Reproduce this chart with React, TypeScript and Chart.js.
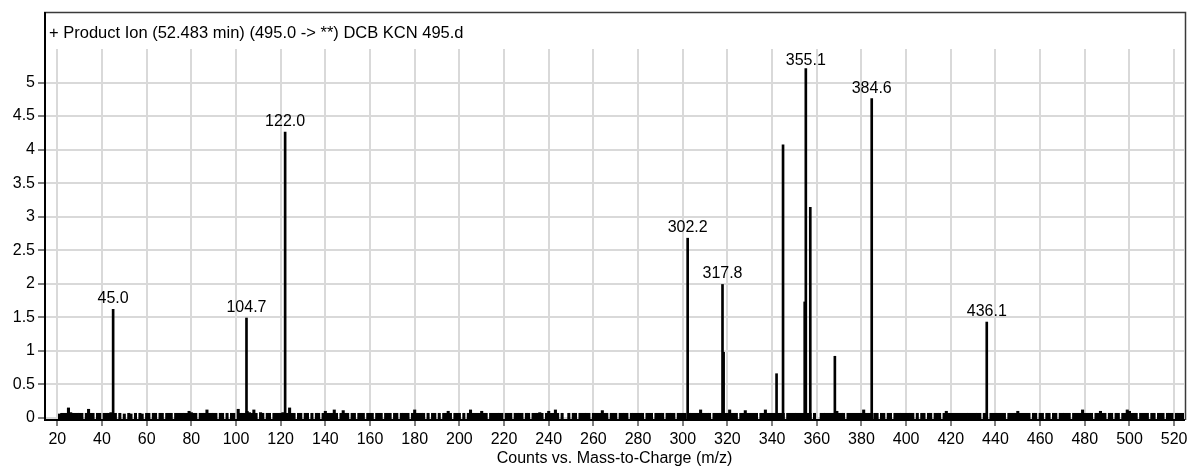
import React, { useEffect, useRef } from 'react';
import { Chart, registerables } from 'chart.js';

Chart.register(...registerables);

const FONT_FAMILY = '"Liberation Sans", Arial, sans-serif';

const chartTitle = '+ Product Ion (52.483 min) (495.0 -> **) DCB KCN 495.d';
const xAxisTitle = 'Counts vs. Mass-to-Charge (m/z)';

const xMin = 14.5;
const xMax = 524.4;
const yMin = -0.03;
const yMax = 5.5;

const xTickValues = [20, 40, 60, 80, 100, 120, 140, 160, 180, 200, 220, 240, 260, 280, 300, 320, 340, 360, 380, 400, 420, 440, 460, 480, 500, 520];
const yTickValues = [0, 0.5, 1, 1.5, 2, 2.5, 3, 3.5, 4, 4.5, 5];
const yTickLabels = ['0', '0.5', '1', '1.5', '2', '2.5', '3', '3.5', '4', '4.5', '5'];

// labelled product ions (m/z, intensity)
const labeledMz = [45.0, 104.7, 122.0, 302.2, 317.8, 355.1, 384.6, 436.1];
const labeledIntensity = [1.62, 1.49, 4.26, 2.68, 1.99, 5.21, 4.76, 1.43];
const labeledText = ['45.0', '104.7', '122.0', '302.2', '317.8', '355.1', '384.6', '436.1'];

// unlabelled ions
const minorMz = [318.3, 342.0, 344.9, 354.6, 357.1, 368.1];
const minorIntensity = [0.98, 0.66, 4.07, 1.73, 3.14, 0.92];

// baseline noise, one value per m/z unit starting at noiseStartMz
const noiseStartMz = 21;
const noiseLevels = [
  .06, .07, .07, .07, .15, .08, .07, .07, .07, .07,
  .07, 0, .07, .13, .07, .07, 0, .07, .07, 0,
  .07, .07, .07, .08, .07, .07, 0, .07, 0, .06,
  0, .07, .06, 0, .07, 0, .07, .06, 0, .07,
  .07, 0, .07, .07, 0, .07, .07, 0, .07, .07,
  .07, 0, .07, .07, .07, .07, .07, .07, .1, .08,
  .07, .07, 0, .07, .07, .07, .12, .07, .07, .07,
  .07, 0, .07, .07, 0, .07, 0, .07, .07, 0,
  .13, .07, .07, .07, .1, .08, .07, .12, .07, 0,
  .08, .07, 0, .07, .07, 0, .07, .07, .07, .07,
  .08, .07, .07, .15, .07, .07, 0, .07, .07, 0,
  .07, .07, 0, .07, 0, .07, .07, 0, .07, .1,
  .07, .07, .07, .12, .07, 0, .07, .11, .07, .07,
  0, .07, .07, 0, .07, .07, .07, 0, .07, .07,
  .07, 0, .07, .07, .07, 0, .07, .07, .07, 0,
  .07, .07, 0, .07, .07, .07, .07, 0, .07, .12,
  .07, .07, .07, .07, 0, .07, 0, .07, .07, 0,
  .07, 0, .07, .07, .1, .07, 0, .07, .07, .07,
  0, .07, 0, .07, .12, .07, .07, .07, .07, .1,
  .07, .07, 0, .07, .07, .07, .07, .07, .07, 0,
  .07, .07, .07, 0, .07, .07, .07, .07, 0, .07,
  .07, 0, .07, .07, .07, .08, .07, 0, .07, .1,
  .07, .07, .12, .07, 0, .07, 0, 0, .07, 0,
  .07, .07, 0, .07, .07, .07, .07, .07, 0, .07,
  .07, .07, .07, .11, .07, .07, 0, .07, .07, .07,
  0, .07, .07, .07, .07, 0, .07, .07, .07, .07,
  .07, .07, 0, .07, .07, .07, 0, .07, .07, .07,
  .07, 0, .07, .07, .07, .07, 0, .07, .07, .07,
  .07, 0, .07, .07, .07, .07, .07, .12, .07, .07,
  .07, .07, 0, .07, .07, .07, .07, .07, .07, .07,
  .12, .07, .07, .07, 0, .07, .07, .11, .07, .07,
  .07, .07, .07, 0, .07, .07, .12, .07, .07, .07,
  .07, .07, .07, .07, .07, 0, .07, .07, .07, .07,
  .07, .07, .07, .07, .07, .07, .07, 0, .07, 0,
  0, .07, .07, .07, .07, .07, .07, .07, .1, .07,
  .07, .07, 0, .07, .07, .07, .07, .07, .07, .07,
  .12, .07, .07, .07, 0, .07, .07, 0, .07, .07,
  0, .07, .07, 0, .07, .07, .07, .07, .07, .07,
  .07, .07, .07, 0, .07, 0, .07, .07, 0, .07,
  .07, 0, .07, .07, .07, 0, .07, .1, .07, .07,
  .07, .07, .07, .07, .07, .07, .07, .07, .07, .07,
  .07, .07, .07, 0, .07, .07, 0, .07, .07, .07,
  .07, .07, .07, .07, 0, .07, .07, .07, .07, .1,
  .07, .07, .07, .07, .07, 0, .07, .07, 0, .07,
  .07, 0, .07, .07, 0, .07, .07, 0, .07, .07,
  .07, .07, .07, 0, .07, .07, .07, .07, .12, .07,
  .07, .07, .07, 0, .07, .07, .1, .07, .07, 0,
  .07, .07, 0, .07, .07, 0, .07, .07, .12, .1,
  .07, .07, .07, 0, .07, .07, .07, .07, 0, .07,
  .07, 0, .07, .07, .07, 0, .07, .07, .07, 0,
  .07, .07, .07, .07,
];

const decorPlugin = {
  id: 'spectrumDecor',
  afterDraw(chart: any) {
    const { ctx, chartArea: a, scales } = chart;
    const xs = scales.x;
    const ys = scales.y;
    ctx.save();
    // frame
    ctx.strokeStyle = '#3a3a3a';
    ctx.lineWidth = 1.5;
    ctx.beginPath();
    ctx.moveTo(a.left - 1, 12.5);
    ctx.lineTo(a.right + 1.5, 12.5);
    ctx.lineTo(a.right + 1.5, a.bottom);
    ctx.stroke();
    ctx.strokeStyle = '#000';
    ctx.lineWidth = 2;
    ctx.beginPath();
    ctx.moveTo(a.left, 12);
    ctx.lineTo(a.left, a.top + 1);
    ctx.stroke();
    // title
    ctx.fillStyle = '#000';
    ctx.font = `16.5px ${FONT_FAMILY}`;
    ctx.textAlign = 'left';
    ctx.textBaseline = 'alphabetic';
    ctx.fillText(chartTitle, a.left + 4, 38);
    // peak labels
    ctx.font = `16px ${FONT_FAMILY}`;
    ctx.textAlign = 'center';
    labeledMz.forEach((mz, i) => {
      const px = xs.getPixelForValue(mz);
      const py = ys.getPixelForValue(labeledIntensity[i]);
      const base = Math.max(py - 6, a.top + 16);
      ctx.fillText(labeledText[i], px, base);
    });
    ctx.restore();
  },
};

export default function App() {
  const canvasRef = useRef<HTMLCanvasElement | null>(null);

  useEffect(() => {
    const canvas = canvasRef.current;
    if (!canvas) return;

    const noiseData = noiseLevels
      .map((v, i) => ({ x: noiseStartMz + i, y: v }))
      .filter((p) => p.y > 0);
    const minorData = minorMz.map((mz, i) => ({ x: mz, y: minorIntensity[i] }));
    const labeledData = labeledMz.map((mz, i) => ({ x: mz, y: labeledIntensity[i] }));

    const font = { family: FONT_FAMILY, size: 16 };

    const chart = new Chart(canvas, {
      type: 'bar',
      data: {
        datasets: [
          { label: 'Noise', data: noiseData as any, backgroundColor: '#000', barThickness: 2.4, grouped: false, base: yMin } as any,
          { label: 'Ions', data: minorData as any, backgroundColor: '#000', barThickness: 2, grouped: false, base: yMin } as any,
          { label: 'Labelled ions', data: labeledData as any, backgroundColor: '#000', barThickness: 2, grouped: false, base: yMin } as any,
        ],
      },
      options: {
        animation: false,
        responsive: false,
        devicePixelRatio: 1,
        layout: { padding: { top: 49, right: 3, left: 0, bottom: 0 } },
        plugins: {
          legend: { display: false },
          tooltip: { enabled: false },
          title: { display: false },
        },
        scales: {
          x: {
            type: 'linear',
            min: xMin,
            max: xMax,
            offset: false,
            afterBuildTicks: (s: any) => {
              s.ticks = xTickValues.map((v) => ({ value: v }));
            },
            afterFit: (s: any) => {
              s.height = 48;
              s.paddingLeft = 0;
              s.paddingRight = 0;
            },
            grid: { offset: false, color: '#d9d9d9', lineWidth: 2, tickColor: '#000', tickLength: 6, tickWidth: 1 },
            border: { display: true, color: '#000', width: 2 },
            ticks: { autoSkip: false, maxRotation: 0, minRotation: 0, color: '#000', font, padding: 4, callback: (v: any) => String(v) },
            title: { display: true, text: xAxisTitle, color: '#000', font, padding: { top: 0, bottom: 0 } },
          },
          y: {
            type: 'linear',
            min: yMin,
            max: yMax,
            afterBuildTicks: (s: any) => {
              s.ticks = yTickValues.map((v) => ({ value: v }));
            },
            afterFit: (s: any) => {
              s.width = 45;
              s.paddingTop = 0;
              s.paddingBottom = 0;
            },
            grid: { color: '#d9d9d9', lineWidth: 2, tickColor: '#000', tickLength: 7, tickWidth: 1 },
            border: { display: true, color: '#000', width: 2 },
            ticks: {
              color: '#000',
              font,
              padding: 3,
              callback: (v: any) => {
                const idx = yTickValues.indexOf(Number(v));
                return idx >= 0 ? yTickLabels[idx] : '';
              },
            },
          },
        },
      } as any,
      plugins: [decorPlugin],
    });

    return () => chart.destroy();
  }, []);

  return (
    <div style={{ position: 'fixed', left: 0, top: 0, width: 1187, height: 468, background: '#fff' }}>
      <canvas ref={canvasRef} width={1187} height={468} style={{ display: 'block', width: 1187, height: 468 }} />
    </div>
  );
}
